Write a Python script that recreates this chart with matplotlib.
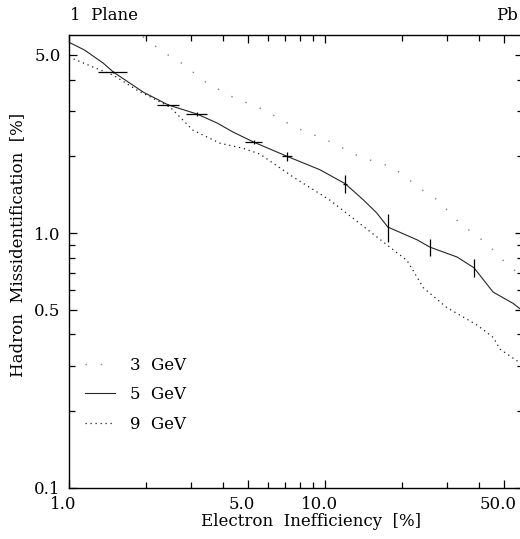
import matplotlib
matplotlib.use('Agg')
import matplotlib.pyplot as plt
import matplotlib.transforms as mtransforms
from matplotlib.ticker import FixedLocator, FixedFormatter, NullFormatter

plt.rcParams['font.family'] = ['DejaVu Serif']
plt.rcParams['font.size'] = 12

# 3 GeV curve (sparse dots)
e3_x = [1.80, 1.95, 2.33, 2.71, 3.46, 4.37, 5.57, 7.77, 10.2, 13.7, 18.4,
        24.1, 27.4, 33.7, 42.8, 49.7, 56.3, 60.0]
e3_y = [6.60, 5.87, 5.13, 4.69, 3.87, 3.41, 3.09, 2.58, 2.31, 1.99, 1.81,
        1.47, 1.35, 1.09, 0.91, 0.78, 0.70, 0.67]

# 5 GeV curve (solid)
e5_x = [1.0, 1.15, 1.36, 1.49, 1.95, 2.44, 3.16, 3.79, 4.37, 5.28, 7.1,
        9.56, 12.0, 14.1, 15.9, 17.6, 22.9, 25.7, 32.8, 38.2, 45.3, 54.2, 60.0]
e5_y = [5.60, 5.22, 4.64, 4.28, 3.57, 3.18, 2.93, 2.70, 2.49, 2.27, 2.00,
        1.77, 1.56, 1.35, 1.20, 1.055, 0.94, 0.88, 0.805, 0.73, 0.587, 0.53, 0.49]

# 5 GeV measured points with errors
p5_x = [1.49, 2.44, 3.16, 5.28, 7.1, 12.0, 17.6, 25.7, 38.2]
p5_y = [4.28, 3.18, 2.93, 2.27, 2.00, 1.56, 1.055, 0.88, 0.73]
p5_xerr = [0.19, 0.24, 0.29, 0.40, 0.30, 0.20, 0.0, 0.0, 0.0]
p5_yerr = [0.05, 0.04, 0.04, 0.04, 0.08, 0.13, 0.13, 0.07, 0.06]

# 9 GeV curve (dotted)
e9_x = [1.0, 1.24, 1.49, 1.84, 2.48, 3.05, 3.89, 4.78, 5.57, 7.5, 10.4,
        20.9, 22.9, 24.2, 29.9, 39.3, 45.3, 48.3, 57.6, 60.0]
e9_y = [4.90, 4.48, 4.16, 3.64, 3.12, 2.53, 2.25, 2.15, 2.04, 1.66, 1.35,
        0.78, 0.67, 0.61, 0.51, 0.435, 0.39, 0.35, 0.31, 0.30]

x_major = [1.0, 5.0, 10.0, 50.0]
x_minor = [2, 3, 4, 6, 7, 8, 9, 20, 30, 40]
y_major = [0.1, 0.5, 1.0, 5.0]
y_minor = [0.2, 0.3, 0.4, 0.6, 0.7, 0.8, 0.9, 2, 3, 4]

fig = plt.figure(figsize=(5.2, 5.39), dpi=100)
ax = fig.add_axes([69 / 520, 51 / 539, 454 / 520, 453 / 539])
ax.set_xscale('log')
ax.set_yscale('log')

ax.plot(e3_x, e3_y, color='0.5', lw=1.0, linestyle=(0, (1, 10)), label='3  GeV')
ax.plot(e5_x, e5_y, color='0.15', lw=0.8, label='5  GeV')
ax.plot(e9_x, e9_y, color='0.1', lw=0.9, linestyle=(0, (1, 3)), label='9  GeV')
ax.errorbar(p5_x, p5_y, xerr=p5_xerr, yerr=p5_yerr, fmt='none',
            ecolor='black', elinewidth=0.9, capsize=0)

ax.set_xlim(1.0, 59.3)
ax.set_ylim(0.1, 5.98)

ax.xaxis.set_major_locator(FixedLocator(x_major))
ax.xaxis.set_major_formatter(FixedFormatter(['%.1f' % v for v in x_major]))
ax.xaxis.set_minor_locator(FixedLocator(x_minor))
ax.xaxis.set_minor_formatter(NullFormatter())
ax.yaxis.set_major_locator(FixedLocator(y_major))
ax.yaxis.set_major_formatter(FixedFormatter(['%.1f' % v for v in y_major]))
ax.yaxis.set_minor_locator(FixedLocator(y_minor))
ax.yaxis.set_minor_formatter(NullFormatter())

ax.tick_params(which='both', direction='in', top=True, right=True, width=0.9)
ax.tick_params(which='major', length=6, pad=6, labelsize=12)
ax.tick_params(which='minor', length=4)
for s in ax.spines.values():
    s.set_linewidth(1.0)

# x tick labels sit a little left of their ticks in the original
shift = mtransforms.ScaledTranslation(-6 / 100, 0, fig.dpi_scale_trans)
for lab in ax.get_xticklabels():
    lab.set_transform(lab.get_transform() + shift)

ax.set_xlabel('Electron  Inefficiency  [%]', fontsize=12)
ax.set_ylabel('Hadron  Missidentification  [%]', fontsize=12)
ax.xaxis.set_label_coords(0.533, -0.055)
ax.yaxis.set_label_coords(-0.095, 0.536)

ax.legend(loc='upper left', bbox_to_anchor=(0.035, 0.29), frameon=False,
          handlelength=1.8, handletextpad=0.9, labelspacing=0.75,
          borderpad=0, borderaxespad=0, fontsize=12)

fig.text(70 / 520, 1 - 15 / 539, '1  Plane', ha='left', va='center', fontsize=12)
fig.text(518 / 520, 1 - 15 / 539, 'Pb', ha='right', va='center', fontsize=12)

fig.savefig('out.png', dpi=100)
